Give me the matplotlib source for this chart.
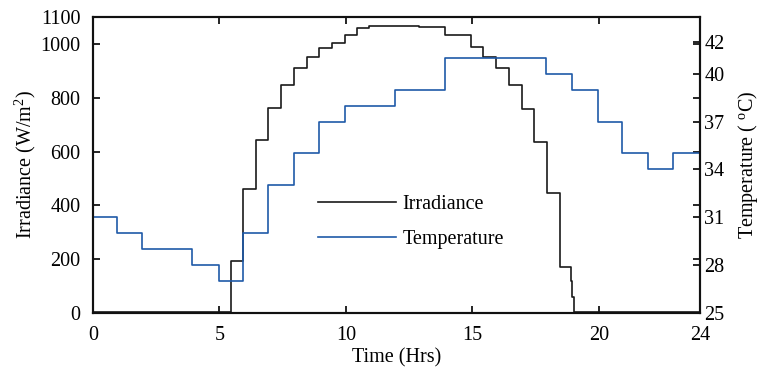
import matplotlib
matplotlib.use("Agg")
import matplotlib.pyplot as plt
from matplotlib.lines import Line2D

# Irradiance (step changes, W/m^2)
irr_time = [0, 5.45, 5.95, 6.45, 6.92, 7.43, 7.95, 8.46, 8.94, 9.43, 9.96, 10.42,
            10.93, 12.9, 13.92, 14.95, 15.42, 15.94, 16.45, 16.97, 17.42, 17.94,
            18.47, 18.88, 18.95, 19.0, 24]
irr_vals = [4, 195, 460, 643, 763, 846, 909, 953, 986, 1002, 1033, 1058,
            1067, 1063, 1033, 987, 953, 909, 846, 757, 635, 447,
            172, 120, 60, 4, 4]

# Temperature (hourly steps, deg C)
temp_time = [0, 0.95, 1.92, 3.93, 4.98, 5.94, 6.92, 7.95, 8.94, 9.97, 11.93,
             13.9, 17.93, 18.93, 19.97, 20.93, 21.96, 22.93, 24]
temp_vals = [31, 30, 29, 28, 27, 30, 33, 35, 37, 38, 39,
             41, 40, 39, 37, 35, 34, 35, 35]

x_ticks = [0, 5, 10, 15, 20, 24]
irr_ticks = [0, 200, 400, 600, 800, 1000, 1100]
temp_ticks = [25, 28, 31, 34, 37, 40, 42]

plt.rcParams['font.family'] = ['Liberation Serif', 'DejaVu Serif']
plt.rcParams['mathtext.fontset'] = 'custom'
plt.rcParams['mathtext.rm'] = 'Liberation Serif'
plt.rcParams['mathtext.it'] = 'Liberation Serif:italic'
fs = 14.5

fig = plt.figure(figsize=(7.61, 3.70), dpi=100)
ax = fig.add_axes([93/761, 1-313/370, (700-93)/761, (313-17)/370])
ax2 = ax.twinx()

black = '#1a1a1a'
blue = '#1f5aa8'

ax.step(irr_time, irr_vals, where='post', color=black, lw=1.2)
ax2.step(temp_time, temp_vals, where='post', color=blue, lw=1.2)

ax.set_xlim(0, 24)
ax.set_ylim(0, 1100)
ax2.set_ylim(25, 43.55)

ax.set_xticks(x_ticks)
ax.set_yticks(irr_ticks)
ax2.set_yticks(temp_ticks)

ax.tick_params(axis='both', direction='in', length=5, width=1.2, labelsize=fs,
               top=True, right=True)
ax.tick_params(axis='x', pad=9)
ax.tick_params(axis='y', pad=9)
ax2.tick_params(axis='y', direction='in', length=5, width=1.2, labelsize=fs, pad=3)

for a in (ax, ax2):
    for s in a.spines.values():
        s.set_linewidth(1.5)
        s.set_color('#111111')

ax.set_xlabel('Time (Hrs)', fontsize=fs, labelpad=3)
ax.set_ylabel('Irradiance (W/m$^2$)', fontsize=fs, labelpad=2)
ax2.set_ylabel('Temperature ( $^{\\rm o}$C)', fontsize=fs, labelpad=8)

handles = [Line2D([], [], color=black, lw=1.2), Line2D([], [], color=blue, lw=1.2)]
ax2.legend(handles, ['Irradiance', 'Temperature'], loc='upper left',
           bbox_to_anchor=((308-93)/607, (313-185)/296), frameon=False,
           borderpad=0, handlelength=3.85, handletextpad=0.35, labelspacing=0.8,
           fontsize=fs)

fig.savefig('out.png', dpi=100)
